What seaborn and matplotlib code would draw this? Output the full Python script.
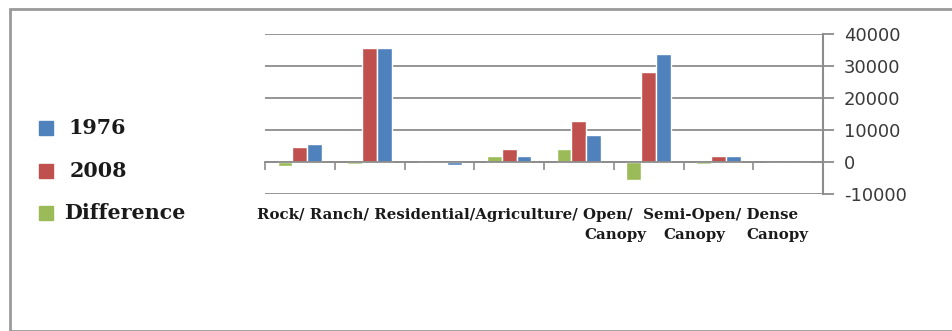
import matplotlib
matplotlib.use("Agg")
import matplotlib.pyplot as plt
from matplotlib.patches import Rectangle
from matplotlib.ticker import FixedLocator, MultipleLocator
import pandas as pd
import seaborn as sns

# Land cover area by class
categories = ["Rock", "Ranch", "Residential", "Agriculture", "Open Canopy",
              "Semi-Open Canopy", "Dense Canopy", "Other"]
diff_vals = [-1200, -700, 0, 1900, 4100, -5700, -700, -100]
v2008 = [4700, 35500, 0, 4100, 12900, 28000, 1900, 150]
v1976 = [5700, 35500, -800, 1900, 8500, 33700, 1900, 150]

series_names = ["Difference", "2008", "1976"]
series_colors = {"Difference": "#9BBB59", "2008": "#C0504D", "1976": "#4F81BD"}
legend_order = ["1976", "2008", "Difference"]

label_line = "Rock/ Ranch/ Residential/Agriculture/ Open/  Semi-Open/ Dense"
canopy_label = "Canopy"

rows = []
for name, vals in zip(series_names, [diff_vals, v2008, v1976]):
    for c, v in zip(categories, vals):
        rows.append({"category": c, "series": name, "value": v})
df = pd.DataFrame(rows)

sns.set_theme(style="white")
plt.rcParams["axes.unicode_minus"] = False
W, H = 952, 331
fig = plt.figure(figsize=(W / 100, H / 100), dpi=100)
fig.patch.set_facecolor("white")

# frame around the whole chart
fig.add_artist(Rectangle((10 / W, 0.0), 1.2, 1 - 9 / H, transform=fig.transFigure,
                         fill=False, edgecolor="#9a9a9a", linewidth=2.0))

ax = fig.add_axes([265 / W, 1 - 194 / H, (823 - 265) / W, (194 - 34) / H])
sns.barplot(data=df, x="category", y="value", hue="series", order=categories,
            hue_order=series_names, palette=series_colors, width=0.64, gap=0,
            saturation=1, ax=ax, legend=False, errorbar=None)

ax.set_ylim(-10000, 40000)
ax.set_xlim(-0.5, len(categories) - 0.5)
ax.set_xlabel("")
ax.set_ylabel("")

# gridlines
ax.yaxis.set_major_locator(MultipleLocator(10000))
ax.grid(axis="y", color="#8c8c8c", linewidth=1.3)
ax.grid(axis="x", visible=False)
ax.set_axisbelow(True)

# right-hand value axis
ax.yaxis.tick_right()
ax.tick_params(axis="y", which="major", right=True, left=False, length=8,
               width=1.3, color="#8c8c8c", direction="out", pad=7,
               labelsize=13, labelcolor="#3a3a3a")
for side in ["left", "top"]:
    ax.spines[side].set_visible(False)
ax.spines["right"].set_color("#8c8c8c")
ax.spines["right"].set_linewidth(1.5)

# category axis sits on the zero line, with ticks at category boundaries
ax.spines["bottom"].set_position(("data", 0))
ax.spines["bottom"].set_color("#8c8c8c")
ax.spines["bottom"].set_linewidth(1.3)
ax.set_xticks([])
ax.xaxis.set_minor_locator(FixedLocator([i - 0.5 for i in range(len(categories) + 1)]))
ax.tick_params(axis="x", which="minor", bottom=True, length=6, width=1.2,
               color="#8c8c8c", direction="out")
ax.tick_params(axis="x", which="major", labelbottom=False)

# category labels
serif = ["DejaVu Serif", "Liberation Serif"]
t = fig.text(257 / W, 1 - 215 / H, label_line, fontsize=10, fontweight="bold",
             family=serif, color="#1a1a1a", va="center", ha="left")
fig.canvas.draw()
w = t.get_window_extent().width
label_size = 10 * (799 - 257) / w
t.set_fontsize(label_size)
for xpx in [584, 663, 746]:
    fig.text(xpx / W, 1 - 235 / H, canopy_label, fontsize=label_size, fontweight="bold",
             family=serif, color="#1a1a1a", va="center", ha="left")

# legend: swatches with bold serif labels, sized so the longest label spans its width
probe = fig.text(0, 0, legend_order[-1], fontsize=14, fontweight="bold", family=serif)
fig.canvas.draw()
legend_size = 14 * (185 - 64) / probe.get_window_extent().width
probe.remove()
for name, ypx, xt in zip(legend_order, [128, 171, 213], [68, 70, 64]):
    fig.add_artist(Rectangle((39 / W, 1 - (ypx + 7) / H), 14 / W, 14 / H,
                             transform=fig.transFigure, color=series_colors[name]))
    fig.text(xt / W, 1 - ypx / H, name, fontsize=legend_size, fontweight="bold",
             family=serif, color="#1a1a1a", va="center", ha="left")

fig.savefig("out.png", dpi=100, facecolor="white")
